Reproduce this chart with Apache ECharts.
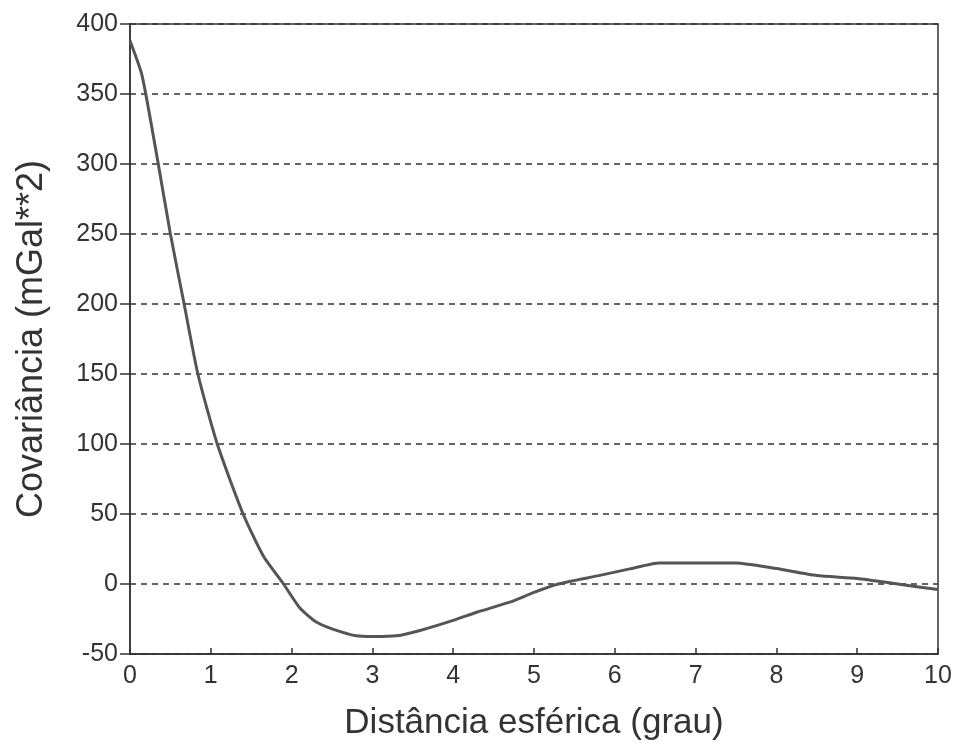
<!DOCTYPE html>
<html>
<head>
<meta charset="utf-8">
<script src="https://cdn.jsdelivr.net/npm/echarts@6/dist/echarts.min.js"></script>
<style>
  html, body { margin: 0; padding: 0; background: #fff; }
  #chart { width: 969px; height: 751px; }
</style>
</head>
<body>
<div id="chart"></div>
<script>
// Spherical distance (degrees) and covariance (mGal^2)
const distance = [0, 0.15, 0.35, 0.5, 0.67, 0.84, 1.08, 1.4, 1.65, 1.9, 2.1, 2.3, 2.5, 2.8, 3.0, 3.3, 3.6, 4.0, 4.3, 4.7, 5.0, 5.3, 5.8, 6.2, 6.55, 7.0, 7.5, 8.0, 8.5, 9.0, 9.5, 10];
const covariance = [388, 363, 300, 250, 200, 150, 100, 50, 20, 0, -17, -27, -32, -37, -37.5, -37, -33, -26, -20, -13, -6, 0, 6, 11, 15, 15, 15, 11, 6, 4, 0, -4];

const xTitle = 'Distância esférica (grau)';
const yTitle = 'Covariância (mGal**2)';

const points = distance.map((d, i) => [d, covariance[i]]);

const ink = '#333';
const font = 'Liberation Sans, Arial, sans-serif';

const chart = echarts.init(document.getElementById('chart'), null, { renderer: 'canvas' });
chart.setOption({
  backgroundColor: '#fff',
  animation: false,
  grid: {
    left: 130, right: 31, top: 24, bottom: 97,
    show: true, borderColor: ink, borderWidth: 1.5, backgroundColor: 'transparent'
  },
  xAxis: {
    type: 'value', min: 0, max: 10, interval: 1,
    name: xTitle, nameLocation: 'middle', nameGap: 52,
    nameTextStyle: { fontFamily: font, fontSize: 35, color: ink },
    axisLine: { show: true, onZero: false, lineStyle: { color: ink, width: 1.5 } },
    axisTick: { show: true, inside: true, length: 6, lineStyle: { color: ink, width: 1.5 } },
    axisLabel: { fontFamily: font, fontSize: 25, color: ink, margin: 10 },
    splitLine: { show: false }
  },
  yAxis: {
    type: 'value', min: -50, max: 400, interval: 50,
    name: yTitle, nameLocation: 'middle', nameGap: 80,
    nameTextStyle: { fontFamily: font, fontSize: 36, color: ink },
    axisLine: { show: true, onZero: false, lineStyle: { color: ink, width: 1.5 } },
    axisTick: { show: true, inside: false, length: 10, lineStyle: { color: ink, width: 1.5 } },
    axisLabel: { fontFamily: font, fontSize: 25, color: ink, margin: 12 },
    splitLine: {
      show: true,
      lineStyle: { color: ink, width: 1.5, type: [6, 5] }
    }
  },
  series: [{
    type: 'line',
    data: points,
    showSymbol: false,
    smooth: 0.2,
    lineStyle: { color: '#555', width: 3 },
    z: 5
  }]
});
</script>
</body>
</html>
